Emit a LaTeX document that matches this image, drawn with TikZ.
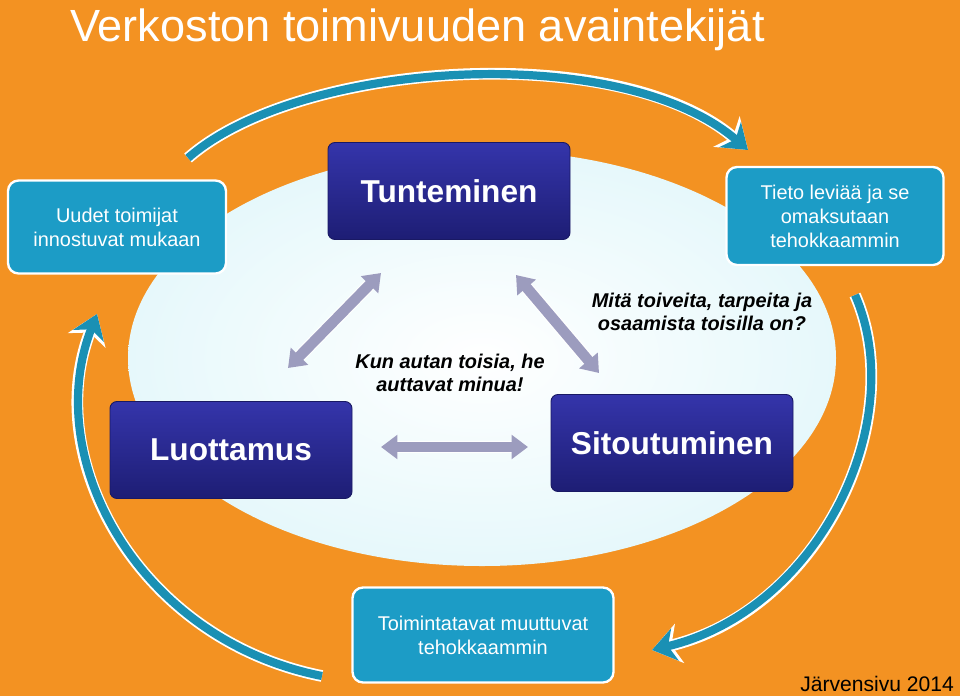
\documentclass[tikz,border=0pt]{standalone}
\usepackage{fontspec}
\setmainfont{Liberation Sans}
\usetikzlibrary{arrows.meta,shapes.geometric}
\definecolor{orangebg}{HTML}{F39222}
\definecolor{boxblue}{HTML}{2A2AA6}
\definecolor{cyanbox}{HTML}{1C9CC6}
\definecolor{swoosh}{HTML}{1A90B4}
\definecolor{pale}{HTML}{E6F8FB}
\definecolor{lilac}{HTML}{9C9CBE}
\tikzset{
  keybox/.style={rectangle, rounded corners=6pt, draw=boxblue!60!black, line width=0.8pt,
    top color=boxblue!95!white, bottom color=boxblue!70!black, text=white,
    font=\fontsize{27}{30}\selectfont\bfseries, minimum width=242*0.03cm, minimum height=97*0.03cm},
  infobox/.style={rectangle, rounded corners=9pt, draw=white, line width=2pt, fill=cyanbox,
    text=white, align=center, font=\fontsize{17}{20.5}\selectfont},
  saying/.style={align=center, font=\fontsize{17}{19.5}\selectfont\bfseries\itshape},
  twoway/.style={{Triangle[width=20pt,length=14pt]}-{Triangle[width=20pt,length=14pt]},
    line width=9pt, draw=lilac, preaction={draw=white, line width=11pt}},
  turn/.style={-{Stealth[width=28pt,length=20pt,inset=6pt]}, line width=7pt, draw=swoosh,
    preaction={draw=white, line width=10pt, -{Stealth[width=34pt,length=24pt,inset=7pt]}}}
}
\begin{document}
\begin{tikzpicture}[x=0.03cm, y=-0.03cm]
  \fill[orangebg] (0,0) rectangle (960,696);
  \useasboundingbox (0,0) rectangle (960,696);
  \shade[inner color=white, outer color=pale] (482,358) ellipse (354 and 208);

  \node[anchor=west, text=white, font=\fontsize{38.5}{41}\selectfont] (title) at (66,30) {Verkoston toimivuuden avaintekijät};

  % swooshes round the circle
  \coordinate (t1) at (188,158);
  \coordinate (t2) at (748,150);
  \coordinate (r1) at (855,295);
  \coordinate (r2) at (652,650);
  \coordinate (l1) at (322,676);
  \coordinate (l2) at (97,314);
  \draw[turn] (t1) .. controls (300,60) and (620,40) .. (t2);
  \draw[turn] (r1) .. controls (910,420) and (820,610) .. (r2);
  \draw[turn] (l1) .. controls (140,640) and (40,460) .. (l2);

  \node[keybox] (know) at (449,191) {Tunteminen};
  \node[keybox] (trust) at (231,450) {Luottamus};
  \node[keybox] (commit) at (672,443) {Sitoutuminen};

  \node[infobox, minimum width=218*0.03cm, minimum height=93*0.03cm] (newc) at (117,227) {Uudet toimijat\\innostuvat mukaan};
  \node[infobox, minimum width=217*0.03cm, minimum height=98*0.03cm] (spread) at (835,216) {Tieto leviää ja se\\omaksutaan\\tehokkaammin};
  \node[infobox, minimum width=261*0.03cm, minimum height=95*0.03cm] (ways) at (483,635) {Toimintatavat muuttuvat\\tehokkaammin};

  \draw[twoway] (288,368) -- (381,273);
  \draw[twoway] (516,275) -- (599,373);
  \draw[twoway] (381,447) -- (528,447);

  \node[saying] (help) at (450,373) {Kun autan toisia, he\\auttavat minua!};
  \node[saying] (wish) at (702,312) {Mitä toiveita, tarpeita ja\\osaamista toisilla on?};

  \node[anchor=south east, font=\fontsize{18}{21}\selectfont] (author) at (958,696) {Järvensivu 2014};
\end{tikzpicture}
\end{document}
